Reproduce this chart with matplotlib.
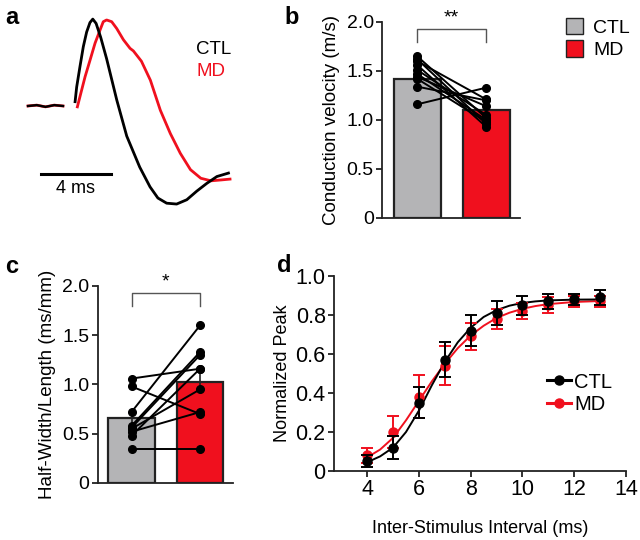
import matplotlib
matplotlib.use("Agg")
import matplotlib.pyplot as plt
from matplotlib.patches import Patch
from matplotlib.lines import Line2D

plt.rcParams['font.family'] = ['Liberation Sans', 'DejaVu Sans']
plt.rcParams['font.size'] = 13

GRAY = '#b4b4b6'
RED = '#f0101e'
EDGE = '#222222'

# ---- panel a: example traces (time in ms, normalized voltage) ----
base_t = [0.0, 0.5, 1.0, 1.5, 2.0]
base_v = [0.0, 0.01, -0.01, 0.01, 0.0]
ctl_t = [2.69, 2.78, 2.97, 3.16, 3.35, 3.54, 3.70, 3.89, 4.15, 4.49, 5.07,
         5.64, 6.38, 6.97, 7.42, 7.92, 8.49, 9.07, 9.64, 10.21, 10.79, 11.45]
ctl_v = [0.05, 0.22, 0.46, 0.69, 0.86, 0.97, 1.01, 0.96, 0.80, 0.55, 0.07,
         -0.35, -0.71, -0.94, -1.07, -1.13, -1.14, -1.09, -0.99, -0.90, -0.82, -0.78]
md_t = [2.82, 2.97, 3.26, 3.54, 3.83, 4.11, 4.30, 4.49, 4.78, 5.07, 5.45,
        5.83, 6.02, 6.48, 6.99, 7.56, 8.13, 8.70, 9.28, 9.87, 10.45, 11.02, 11.54]
md_v = [-0.01, 0.11, 0.34, 0.53, 0.73, 0.88, 0.98, 1.0, 0.98, 0.90, 0.77,
        0.67, 0.64, 0.52, 0.30, -0.05, -0.32, -0.55, -0.74, -0.84, -0.87, -0.86, -0.85]

# ---- panel b: conduction velocity (m/s) ----
groups = ['CTL', 'MD']
cv_mean = [1.42, 1.10]
cv_err = [0.05, 0.04]
cv_ctl = [1.65, 1.62, 1.60, 1.56, 1.51, 1.47, 1.44, 1.42, 1.34, 1.16]
cv_md = [1.02, 0.96, 1.21, 0.93, 1.05, 1.00, 1.14, 0.98, 1.20, 1.33]

# ---- panel c: half-width / length (ms/mm) ----
hw_mean = [0.66, 1.03]
hw_err = [0.07, 0.11]
hw_ctl = [1.06, 0.98, 0.72, 0.58, 0.56, 0.55, 0.52, 0.48, 0.34]
hw_md = [1.16, 0.70, 1.60, 1.33, 1.30, 0.95, 0.72, 1.16, 0.34]

# ---- panel d: paired-pulse recovery ----
isi = [4, 5, 6, 7, 8, 9, 10, 11, 12, 13]
peak_ctl = [0.05, 0.12, 0.35, 0.57, 0.72, 0.81, 0.85, 0.87, 0.88, 0.89]
sem_ctl = [0.03, 0.06, 0.08, 0.09, 0.08, 0.06, 0.05, 0.04, 0.03, 0.04]
peak_md = [0.08, 0.20, 0.38, 0.54, 0.69, 0.78, 0.82, 0.85, 0.87, 0.87]
sem_md = [0.04, 0.08, 0.11, 0.10, 0.07, 0.05, 0.04, 0.04, 0.03, 0.03]
fit_x = [4, 4.5, 5, 5.5, 6, 6.5, 7, 7.5, 8, 8.5, 9, 9.5, 10, 10.5, 11, 12, 13]
fit_ctl = [0.045, 0.075, 0.12, 0.20, 0.31, 0.44, 0.56, 0.66, 0.735, 0.79, 0.825,
           0.848, 0.862, 0.870, 0.875, 0.879, 0.880]
fit_md = [0.07, 0.11, 0.17, 0.26, 0.36, 0.46, 0.55, 0.63, 0.695, 0.745, 0.785,
          0.812, 0.832, 0.846, 0.856, 0.867, 0.872]

fig = plt.figure(figsize=(6.4, 5.4), dpi=100)


def style(ax, tick_size):
    for s in ('top', 'right'):
        ax.spines[s].set_visible(False)
    for s in ('left', 'bottom'):
        ax.spines[s].set_linewidth(1.3)
        ax.spines[s].set_color('#222222')
    ax.tick_params(direction='out', length=4, width=1.3, labelsize=tick_size,
                   color='#222222', pad=2)


# panel a
axa = fig.add_axes([0.03125, 0.6019, 0.34375, 0.3796])
axa.plot(base_t, base_v, color=RED, lw=2.0)
axa.plot(base_t, base_v, color='black', lw=1.7)
axa.plot(md_t, md_v, color=RED, lw=2.0)
axa.plot(ctl_t, ctl_v, color='black', lw=2.0)
axa.plot([0.74, 4.74], [-0.79, -0.79], color='black', lw=2.2)
axa.text(2.74, -0.96, '4 ms', ha='center', va='center', fontsize=13)
axa.text(9.6, 0.66, 'CTL', color='black', fontsize=13.5, va='center')
axa.text(9.6, 0.40, 'MD', color=RED, fontsize=13.5, va='center')
axa.set_xlim(-0.457, 12.11)
axa.set_ylim(-1.267, 1.116)
axa.axis('off')


def paired_bars(ax, means, errs, ctl, md, ylabel, stars, xlim):
    ax.bar([0, 1], means, width=0.68, color=[GRAY, RED], edgecolor=EDGE, lw=1.6, zorder=1)
    ax.errorbar([0, 1], means, yerr=errs, fmt='none', ecolor=EDGE, lw=1.2, capsize=0, zorder=2)
    for a, b in zip(ctl, md):
        ax.plot([0, 1], [a, b], color='black', lw=1.4, marker='o', ms=5.5, zorder=3)
    ax.set_xlim(*xlim)
    ax.set_ylim(0, 2.0)
    ax.set_yticks([0, 0.5, 1.0, 1.5, 2.0])
    ax.set_yticklabels(['0', '0.5', '1.0', '1.5', '2.0'])
    ax.set_xticks([])
    ax.set_ylabel(ylabel, fontsize=13.5, labelpad=5)
    style(ax, 14)
    ax.plot([0, 0, 1, 1], [1.8, 1.93, 1.93, 1.8], color='#555555', lw=1.0, clip_on=False)
    ax.text(0.5, 1.95, stars, ha='center', va='bottom', fontsize=14, clip_on=False)


# panel b
axb = fig.add_axes([0.597, 0.5963, 0.2156, 0.363])
paired_bars(axb, cv_mean, cv_err, cv_ctl, cv_md, 'Conduction velocity (m/s)', '**', (-0.51, 1.49))
handles = [Patch(facecolor=GRAY, edgecolor=EDGE, label=groups[0]),
           Patch(facecolor=RED, edgecolor=EDGE, label=groups[1])]
fig.legend(handles=handles, loc='upper left', bbox_to_anchor=(0.884, 0.967), frameon=False,
           fontsize=14, handlelength=0.9, handleheight=0.9, handletextpad=0.5,
           labelspacing=0.2, borderaxespad=0, borderpad=0)

# panel c
axc = fig.add_axes([0.153, 0.1056, 0.211, 0.3648])
paired_bars(axc, hw_mean, hw_err, hw_ctl, hw_md, 'Half-Width/Length (ms/mm)', '*', (-0.49, 1.48))

# panel d
axd = fig.add_axes([0.522, 0.1278, 0.456, 0.361])
axd.plot(fit_x, fit_md, color=RED, lw=1.4, zorder=1)
axd.plot(fit_x, fit_ctl, color='black', lw=1.4, zorder=2)
axd.errorbar(isi, peak_md, yerr=sem_md, fmt='o', color=RED, ms=6.5, capsize=4,
             elinewidth=1.4, capthick=1.4, zorder=3)
axd.errorbar(isi, peak_ctl, yerr=sem_ctl, fmt='o', color='black', ms=6.5, capsize=4,
             elinewidth=1.4, capthick=1.4, zorder=4)
axd.set_xlim(2.72, 14)
axd.set_ylim(0, 1.0)
axd.set_xticks([4, 6, 8, 10, 12, 14])
axd.set_yticks([0, 0.2, 0.4, 0.6, 0.8, 1.0])
axd.set_yticklabels(['0', '0.2', '0.4', '0.6', '0.8', '1.0'])
axd.set_xlabel('Inter-Stimulus Interval (ms)', fontsize=13, labelpad=14)
axd.set_ylabel('Normalized Peak', fontsize=13, labelpad=3)
style(axd, 15.5)
leg_handles = [Line2D([], [], color='black', marker='o', ms=6.5, lw=2.2, label='CTL'),
               Line2D([], [], color=RED, marker='o', ms=6.5, lw=2.2, label='MD')]
axd.legend(handles=leg_handles, loc='upper left', bbox_to_anchor=(0.73, 0.505), frameon=False,
           fontsize=14.5, handlelength=1.2, handletextpad=0.15, labelspacing=0.15,
           borderaxespad=0, borderpad=0)

# panel letters
for lbl, x, y in [('a', 0.008, 0.988), ('b', 0.445, 0.988), ('c', 0.008, 0.527), ('d', 0.433, 0.53)]:
    fig.text(x, y, lbl, fontsize=17, fontweight='bold', va='top')

fig.savefig('out.png', dpi=100)
